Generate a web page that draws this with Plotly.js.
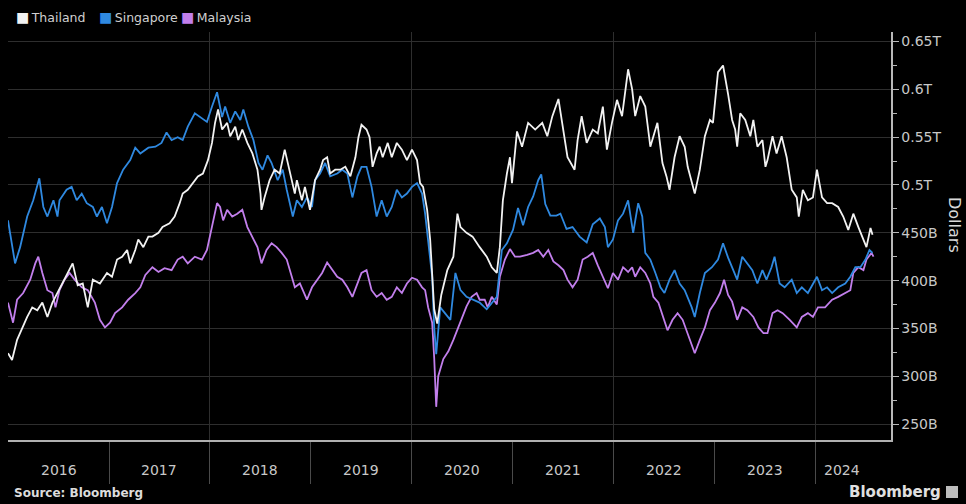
<!DOCTYPE html>
<html>
<head>
<meta charset="utf-8">
<script src="https://cdn.plot.ly/plotly-3.0.1.min.js"></script>
<style>html,body{margin:0;padding:0;background:#000;}</style>
</head>
<body>
<div id="chart" style="width:966px;height:504px;"></div>
<script>
// ---- data (decimal years, billions of dollars) ----
const seriesNames = ["Thailand", "Singapore", "Malaysia"];
const seriesColors = ["#f2f2f2", "#2f89e0", "#c27fec"];

const thaiT = [2016.00,2016.04,2016.09,2016.14,2016.19,2016.24,2016.29,2016.34,2016.39,2016.44,2016.49,2016.54,2016.59,2016.64,2016.69,2016.74,2016.79,2016.84,2016.91,2016.98,
2017.03,2017.08,2017.13,2017.18,2017.21,2017.26,2017.29,2017.34,2017.39,2017.43,2017.49,2017.53,2017.60,2017.65,2017.70,2017.73,2017.78,2017.83,2017.88,2017.93,
2017.98,2018.02,2018.05,2018.08,2018.12,2018.17,2018.20,2018.25,2018.28,2018.32,2018.37,2018.42,2018.47,2018.50,2018.51,2018.54,2018.59,2018.64,2018.69,2018.74,
2018.77,2018.81,2018.84,2018.86,2018.91,2018.94,2018.99,2019.04,2019.09,2019.12,2019.16,2019.19,2019.24,2019.29,2019.34,2019.39,2019.44,2019.47,2019.50,2019.55,
2019.58,2019.61,2019.65,2019.68,2019.71,2019.76,2019.80,2019.85,2019.90,2019.95,2020.00,2020.05,2020.08,2020.11,2020.15,2020.18,2020.22,2020.25,2020.29,2020.35,
2020.41,2020.45,2020.48,2020.54,2020.60,2020.67,2020.74,2020.79,2020.84,2020.87,2020.90,2020.94,2020.97,2020.99,2021.04,2021.09,2021.15,2021.22,2021.29,2021.34,
2021.39,2021.45,2021.50,2021.54,2021.61,2021.64,2021.68,2021.73,2021.79,2021.84,2021.89,2021.93,2021.98,2022.03,2022.08,2022.14,2022.18,2022.21,2022.26,2022.31,
2022.36,2022.43,2022.48,2022.52,2022.55,2022.60,2022.65,2022.70,2022.73,2022.80,2022.85,2022.90,2022.95,2022.98,2023.03,2023.08,2023.13,2023.17,2023.20,2023.22,
2023.25,2023.30,2023.35,2023.38,2023.42,2023.47,2023.50,2023.52,2023.57,2023.61,2023.66,2023.71,2023.76,2023.81,2023.83,2023.87,2023.92,2023.97,2024.01,2024.06,
2024.11,2024.16,2024.22,2024.27,2024.32,2024.37,2024.42,2024.47,2024.50,2024.54,2024.56];
const thaiV = [324,317,338,351,362,372,369,377,362,377,387,397,408,418,395,397,372,401,397,408,
404,422,425,432,418,432,443,435,446,446,450,456,460,467,481,491,495,502,509,512,
526,544,565,579,558,565,551,561,547,558,544,533,516,491,474,487,505,516,512,537,
523,502,491,505,484,498,474,505,516,526,529,512,516,516,519,509,529,550,563,558,
550,519,533,540,529,544,529,544,537,526,537,526,502,498,474,443,370,355,385,411,
425,470,456,450,446,435,425,414,408,435,484,512,529,502,556,540,565,558,565,551,
572,590,554,529,516,547,572,544,558,554,582,537,565,589,572,621,600,572,593,582,
540,565,523,509,495,529,551,540,519,491,516,551,568,565,618,625,595,568,558,540,
575,568,551,568,540,547,519,526,551,533,551,529,495,487,467,495,484,487,516,487,
481,481,477,467,453,470,456,443,435,455,448];

const sgT = [2016.00,2016.07,2016.12,2016.19,2016.25,2016.31,2016.35,2016.39,2016.45,2016.49,
2016.51,2016.58,2016.63,2016.68,2016.73,2016.78,2016.84,2016.88,2016.93,2016.98,
2017.03,2017.08,2017.14,2017.21,2017.26,2017.31,2017.39,2017.46,2017.52,2017.57,
2017.62,2017.68,2017.73,2017.78,2017.85,2017.92,2017.97,2018.02,2018.07,2018.12,
2018.15,2018.20,2018.25,2018.30,2018.33,2018.38,2018.43,2018.48,2018.52,2018.57,
2018.61,2018.67,2018.72,2018.76,2018.79,2018.82,2018.86,2018.91,2018.96,2019.01,
2019.04,2019.09,2019.14,2019.19,2019.26,2019.31,2019.36,2019.41,2019.46,2019.50,
2019.55,2019.60,2019.65,2019.70,2019.75,2019.80,2019.85,2019.90,2019.95,2020.00,
2020.05,2020.10,2020.13,2020.16,2020.20,2020.22,2020.24,2020.28,2020.33,2020.38,
2020.43,2020.45,2020.48,2020.54,2020.60,2020.67,2020.74,2020.79,2020.84,2020.89,
2020.94,2021.00,2021.05,2021.10,2021.15,2021.20,2021.25,2021.28,2021.32,2021.37,
2021.43,2021.47,2021.53,2021.59,2021.66,2021.73,2021.79,2021.86,2021.91,2021.94,
2021.99,2022.04,2022.09,2022.14,2022.19,2022.24,2022.28,2022.31,2022.36,2022.41,
2022.46,2022.50,2022.55,2022.60,2022.65,2022.70,2022.77,2022.80,2022.85,2022.90,
2022.97,2023.03,2023.08,2023.13,2023.22,2023.27,2023.32,2023.37,2023.42,
2023.47,2023.51,2023.56,2023.59,2023.64,2023.69,2023.76,2023.81,2023.86,2023.92,
2023.97,2024.01,2024.06,2024.11,2024.16,2024.22,2024.29,2024.34,2024.39,2024.44,
2024.49,2024.53,2024.56];
const sgV = [463,418,435,467,484,507,477,467,484,467,
484,495,498,484,491,481,477,467,477,460,
477,502,516,526,539,533,539,540,544,555,
547,550,547,561,575,570,566,582,597,571,
582,565,577,568,579,561,547,523,516,531,
523,505,516,495,481,467,484,477,487,477,
505,512,523,509,512,516,512,487,509,519,
519,498,467,484,467,477,495,487,491,498,
502,491,470,443,404,351,323,372,366,359,
408,400,390,383,380,377,370,377,383,432,
439,453,476,458,477,488,505,511,480,468,
468,470,454,456,446,440,459,465,456,435,
443,463,470,484,450,481,467,429,422,408,
393,387,401,411,397,390,372,362,387,408,
414,422,439,424,401,425,418,411,397,
411,401,414,425,397,393,401,387,393,387,
397,404,390,393,387,393,397,404,414,414,
422,432,429];

const myT = [2016.00,2016.05,2016.09,2016.15,2016.22,2016.27,2016.30,2016.34,2016.39,2016.44,
2016.47,2016.51,2016.56,2016.61,2016.66,2016.73,2016.79,2016.86,2016.91,2016.96,
2017.01,2017.06,2017.13,2017.19,2017.26,2017.31,2017.36,2017.43,2017.49,2017.55,
2017.62,2017.68,2017.73,2017.78,2017.85,2017.92,2017.97,2018.02,2018.07,2018.10,
2018.13,2018.17,2018.22,2018.27,2018.32,2018.37,2018.42,2018.47,2018.51,2018.56,
2018.61,2018.66,2018.71,2018.76,2018.81,2018.84,2018.89,2018.96,2019.01,2019.06,
2019.11,2019.16,2019.21,2019.26,2019.31,2019.36,2019.41,2019.46,2019.50,2019.55,
2019.60,2019.65,2019.70,2019.75,2019.80,2019.85,2019.90,2019.95,2020.00,2020.05,
2020.10,2020.13,2020.16,2020.20,2020.22,2020.24,2020.26,2020.31,2020.36,2020.41,
2020.45,2020.50,2020.54,2020.59,2020.64,2020.67,2020.72,2020.75,2020.79,2020.84,
2020.87,2020.92,2020.97,2021.02,2021.07,2021.14,2021.20,2021.25,2021.30,2021.35,
2021.40,2021.45,2021.50,2021.54,2021.59,2021.64,2021.69,2021.74,2021.79,2021.84,
2021.89,2021.94,2021.99,2022.04,2022.09,2022.14,2022.18,2022.21,2022.26,2022.31,
2022.36,2022.39,2022.44,2022.49,2022.53,2022.58,2022.63,2022.68,2022.73,2022.77,
2022.80,2022.85,2022.90,2022.95,2023.00,2023.05,2023.09,2023.13,2023.17,2023.22,
2023.27,2023.32,2023.38,2023.43,2023.48,2023.52,2023.57,2023.62,2023.67,2023.74,
2023.81,2023.86,2023.92,2023.97,2024.02,2024.09,2024.16,2024.22,2024.29,2024.34,
2024.37,2024.42,2024.47,2024.50,2024.55,2024.57];
const myV = [377,356,380,387,401,418,425,408,390,387,
372,390,401,408,401,393,390,377,359,351,
356,366,372,380,387,393,406,414,409,413,
411,422,425,418,425,422,432,456,481,477,
463,474,467,470,474,456,446,435,418,432,
439,435,429,422,404,393,397,380,393,401,
408,419,411,404,401,393,383,397,408,411,
390,383,387,380,383,393,387,397,403,401,
393,390,372,356,319,268,300,318,326,338,
349,362,373,383,387,380,380,372,383,375,
404,422,433,425,425,427,429,432,425,432,
420,416,411,401,393,401,422,425,429,416,
403,392,408,401,414,409,414,404,414,408,
397,383,377,362,348,359,366,359,345,332,
324,338,351,369,377,387,401,385,378,359,
372,369,362,351,345,345,366,369,366,359,
351,362,366,362,372,372,380,383,387,390,
408,414,411,422,429,425];

const years = [2016, 2017, 2018, 2019, 2020, 2021, 2022, 2023, 2024];
const yTickVals = [250, 300, 350, 400, 450, 500, 550, 600, 650];
const sourceText = "Source: Bloomberg";
const brandText = "Bloomberg";
const axisTitle = "Dollars";

// ---- build ----
const FONT = "DejaVu Sans";
const xs = [thaiT, sgT, myT];
const ys = [thaiV, sgV, myV];
// draw order: Malaysia, Singapore, Thailand on top
const order = [2, 1, 0];
const traces = order.map(i => ({
  type: "scatter", mode: "lines", name: seriesNames[i],
  x: xs[i], y: ys[i],
  line: {color: seriesColors[i], width: 1.8},
  hoverinfo: "skip"
}));

const yTickText = yTickVals.map(v => v < 500 ? v + "B" : (v / 1000) + "T");
const xEnd = 2024.743;
const yearLabelPos = years.map((y, i) => i === years.length - 1 ? y + 0.26 : y + 0.5);

const plotW = 966 - 8 - 75, plotH = 504 - 32 - 64;
const annotations = [];
years.forEach((y, i) => annotations.push({
  xref: "x", yref: "paper", x: yearLabelPos[i], y: 0, yanchor: "top", yshift: -20,
  text: String(y), showarrow: false, font: {family: FONT, size: 14, color: "#c8c8c8"}
}));
const legendX = [14, 97, 179];
seriesNames.forEach((n, i) => annotations.push({
  xref: "paper", yref: "paper", x: (legendX[i] - 8) / plotW, y: 1 + 15 / plotH,
  xanchor: "left", yanchor: "middle", showarrow: false,
  text: '<span style="color:' + seriesColors[i] + ';font-size:14px">\u25A0</span>\u2009' + n,
  font: {family: FONT, size: 12.5, color: "#d0d0d0"}
}));
annotations.push({
  xref: "paper", yref: "paper", x: 1, xanchor: "center", xshift: 64,
  y: (440 - 225) / plotH, yanchor: "middle",
  textangle: 90, showarrow: false, text: axisTitle,
  font: {family: FONT, size: 16, color: "#d8d8d8"}
});
annotations.push({
  xref: "paper", yref: "paper", x: (12 - 8) / plotW, y: -(493 - 440) / plotH,
  xanchor: "left", yanchor: "middle", showarrow: false, text: "<b>" + sourceText + "</b>",
  font: {family: FONT, size: 12, color: "#dcdcdc"}
});
annotations.push({
  xref: "paper", yref: "paper", x: (943 - 8) / plotW, y: -(492 - 440) / plotH,
  xanchor: "right", yanchor: "middle", showarrow: false, text: "<b>" + brandText + "</b>",
  font: {family: FONT, size: 15, color: "#e0e0e0"}
});

const layout = {
  width: 966, height: 504,
  paper_bgcolor: "#000", plot_bgcolor: "#000",
  margin: {l: 8, r: 75, t: 32, b: 64},
  showlegend: false,
  xaxis: {
    range: [2016, xEnd], tickmode: "array", tickvals: [2018, 2020, 2022, 2024],
    ticks: "outside", ticklen: 42, tickcolor: "#4a4a4a", tickwidth: 1,
    showticklabels: false, showgrid: true, gridcolor: "#2e2e2e", gridwidth: 1,
    showline: true, linecolor: "#b0b0b0", linewidth: 1.5, zeroline: false,
    minor: {tickmode: "array", tickvals: [2017, 2019, 2021, 2023], ticks: "outside",
            ticklen: 42, tickcolor: "#4a4a4a", tickwidth: 1, showgrid: false}
  },
  yaxis: {
    side: "right", range: [233.3, 660], tickmode: "array",
    tickvals: yTickVals, ticktext: yTickText,
    ticks: "outside", ticklen: 6, tickcolor: "#b8b8b8", tickwidth: 1,
    showline: true, linecolor: "#b8b8b8", linewidth: 1.5,
    showgrid: true, gridcolor: "#2e2e2e", gridwidth: 1, zeroline: false,
    tickfont: {family: FONT, size: 14, color: "#c8c8c8"},
    minor: {dtick: 25, ticks: "outside", ticklen: 4, tickcolor: "#b8b8b8", showgrid: false}
  },
  annotations: annotations,
  shapes: [{
    type: "rect", xref: "paper", yref: "paper",
    x0: (946 - 8) / plotW, x1: (958 - 8) / plotW,
    y0: -(498 - 440) / plotH, y1: -(486 - 440) / plotH,
    fillcolor: "#bdbdbd", line: {width: 0}
  }]
};

Plotly.newPlot("chart", traces, layout, {displayModeBar: false, staticPlot: true});
</script>
</body>
</html>
